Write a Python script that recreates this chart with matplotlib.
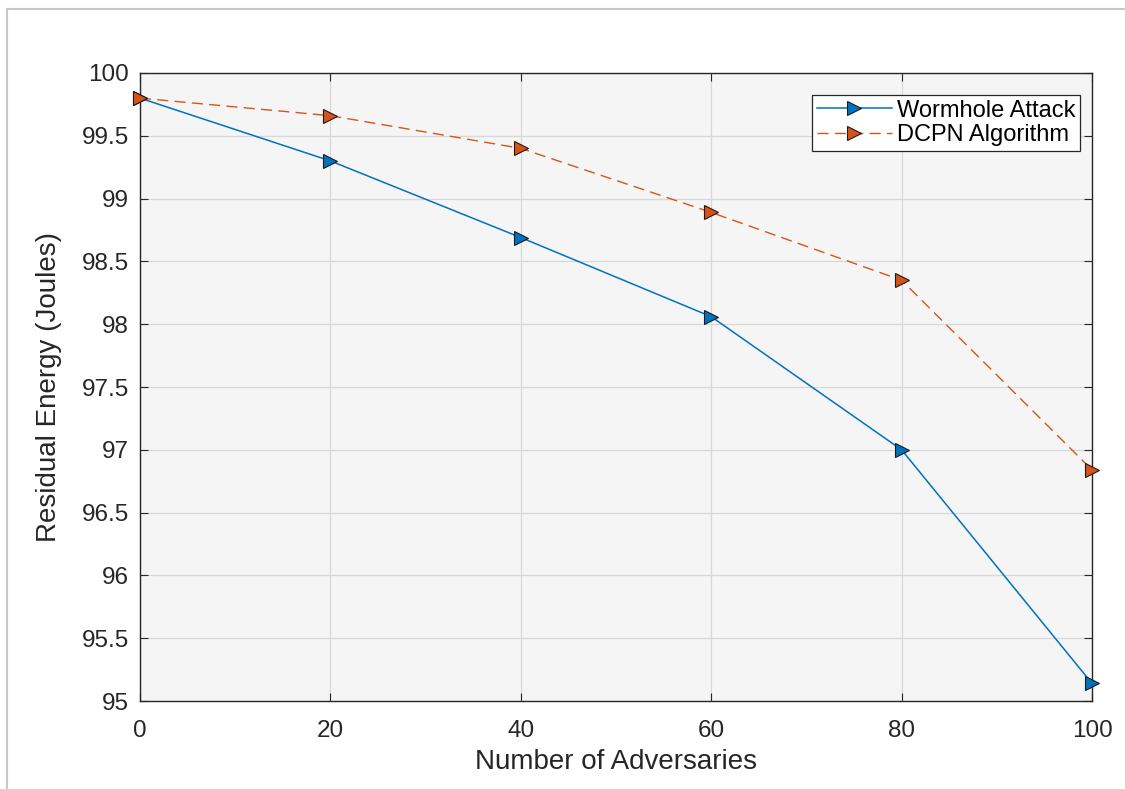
import matplotlib.pyplot as plt
from matplotlib.lines import Line2D

adversaries = [0, 20, 40, 60, 80, 100]
wormhole = [99.80, 99.30, 98.69, 98.06, 97.00, 95.14]
dcpn = [99.80, 99.66, 99.40, 98.89, 98.35, 96.84]

plt.rcParams['font.family'] = ['Liberation Sans', 'DejaVu Sans']

fig = plt.figure(figsize=(11.25, 7.89), dpi=100)
ax = fig.add_axes([0.1244, 0.1115, 0.8463, 0.796])
ax.set_facecolor('#f5f5f5')

ax.plot(adversaries, wormhole, color='#0072BD', lw=1.1, marker='>',
        markersize=10, markerfacecolor='#0072BD', markeredgecolor='#1a1a1a',
        markeredgewidth=0.8, label='Wormhole Attack', clip_on=False, zorder=3)
ax.plot(adversaries, dcpn, color='#D95319', lw=1.0, ls=(0, (8, 4.5)), marker='>',
        markersize=10, markerfacecolor='#D95319', markeredgecolor='#1a1a1a',
        markeredgewidth=0.8, label='DCPN Algorithm', clip_on=False, zorder=3)

ax.set_xlim(0, 100)
ax.set_ylim(95, 100)
ax.set_xticks([0, 20, 40, 60, 80, 100])
ax.set_yticks([95, 95.5, 96, 96.5, 97, 97.5, 98, 98.5, 99, 99.5, 100])
ax.set_yticklabels(['95', '95.5', '96', '96.5', '97', '97.5', '98', '98.5',
                    '99', '99.5', '100'])
ax.grid(True, color='#d8d8d8', lw=0.9)
ax.set_axisbelow(True)
ax.tick_params(labelsize=17.5, colors='#262626', direction='in', length=6,
               top=True, right=True)
ax.tick_params(axis='x', pad=14)
ax.tick_params(axis='y', pad=8)
for s in ax.spines.values():
    s.set_color('#262626')
    s.set_linewidth(1.0)

ax.set_xlabel('Number of Adversaries', fontsize=20, color='#262626', labelpad=5)
ax.set_ylabel('Residual Energy (Joules)', fontsize=20, color='#262626', labelpad=14)

leg = ax.legend(loc='upper right', bbox_to_anchor=(0.9874, 0.965),
                fontsize=17, frameon=True, fancybox=False,
                edgecolor='#262626', framealpha=1, borderpad=0.2,
                handlelength=3.2, handletextpad=0.2, labelspacing=0.1,
                borderaxespad=0.0)
leg.get_frame().set_linewidth(0.9)

# thin grey frame around the figure (top and left)
fig.add_artist(Line2D([0.006, 1.0], [0.989, 0.989], color='#c8c8c8', lw=1.5,
                      transform=fig.transFigure))
fig.add_artist(Line2D([0.006, 0.006], [0.0, 0.989], color='#c8c8c8', lw=1.5,
                      transform=fig.transFigure))

fig.savefig('out.png', dpi=100, facecolor='white')
